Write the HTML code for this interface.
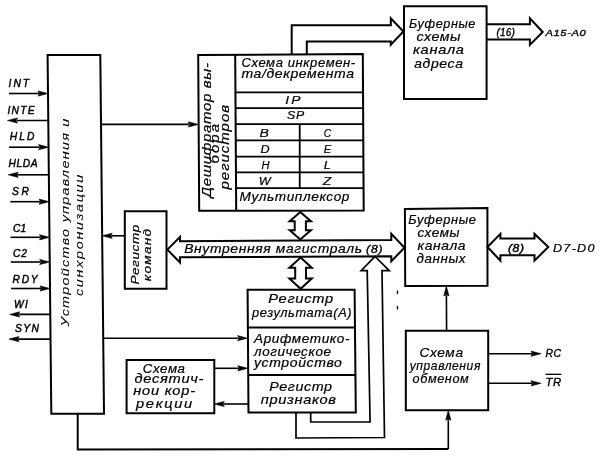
<!DOCTYPE html><html><head><meta charset="utf-8"><style>html,body{margin:0;padding:0;background:#fff;}svg{display:block;will-change:transform;}text{font-family:"Liberation Sans",sans-serif;font-style:italic;fill:#000;stroke:#000;stroke-width:0.2px;}</style></head><body>
<svg width="600" height="464" viewBox="0 0 600 464">
<rect width="600" height="464" fill="#fff"/>
<path d="M47.6 55.0 L100.3 55.0 L104.0 413.7 L51.3 413.7 Z" fill="none" stroke="#000" stroke-width="2.0" stroke-linejoin="miter"/>
<text transform="translate(8.6 87.2) scale(0.950 1)" x="0" y="0" font-size="10.8" textLength="21.5" lengthAdjust="spacing" style="stroke-width:0.45px">INT</text>
<line x1="9.0" y1="93.5" x2="39.0" y2="93.5" stroke="#000" stroke-width="1.6"/>
<path d="M48.0 93.5 L38.0 96.1 L39.5 93.5 L38.0 90.9 Z" fill="#000" stroke="#000" stroke-width="0.6" stroke-linejoin="miter"/>
<text transform="translate(7.5 114.2) scale(0.950 1)" x="0" y="0" font-size="10.8" textLength="28.4" lengthAdjust="spacing" style="stroke-width:0.45px">INTE</text>
<line x1="48.3" y1="120.5" x2="16.5" y2="120.5" stroke="#000" stroke-width="1.6"/>
<path d="M7.5 120.5 L17.5 117.9 L16.0 120.5 L17.5 123.1 Z" fill="#000" stroke="#000" stroke-width="0.6" stroke-linejoin="miter"/>
<text transform="translate(9.7 140.0) scale(0.950 1)" x="0" y="0" font-size="10.8" textLength="26.1" lengthAdjust="spacing" style="stroke-width:0.45px">HLD</text>
<line x1="9.0" y1="147.2" x2="39.6" y2="147.2" stroke="#000" stroke-width="1.6"/>
<path d="M48.6 147.2 L38.6 149.8 L40.1 147.2 L38.6 144.6 Z" fill="#000" stroke="#000" stroke-width="0.6" stroke-linejoin="miter"/>
<text transform="translate(8.6 167.2) scale(0.950 1)" x="0" y="0" font-size="10.8" textLength="30.6" lengthAdjust="spacing" style="stroke-width:0.45px">HLDA</text>
<line x1="48.8" y1="174.8" x2="17.2" y2="174.8" stroke="#000" stroke-width="1.6"/>
<path d="M8.2 174.8 L18.2 172.2 L16.7 174.8 L18.2 177.4 Z" fill="#000" stroke="#000" stroke-width="0.6" stroke-linejoin="miter"/>
<text transform="translate(11.9 195.3) scale(0.950 1)" x="0" y="0" font-size="10.8" textLength="18.0" lengthAdjust="spacing" style="stroke-width:0.45px">SR</text>
<line x1="10.3" y1="201.7" x2="40.1" y2="201.7" stroke="#000" stroke-width="1.6"/>
<path d="M49.1 201.7 L39.1 204.3 L40.6 201.7 L39.1 199.1 Z" fill="#000" stroke="#000" stroke-width="0.6" stroke-linejoin="miter"/>
<text transform="translate(12.9 231.5) scale(0.950 1)" x="0" y="0" font-size="10.8" textLength="6.9" lengthAdjust="spacing" style="stroke-width:0.45px">C</text>
<line x1="10.5" y1="237.3" x2="40.5" y2="237.3" stroke="#000" stroke-width="1.6"/>
<path d="M49.5 237.3 L39.5 239.9 L41.0 237.3 L39.5 234.7 Z" fill="#000" stroke="#000" stroke-width="0.6" stroke-linejoin="miter"/>
<text transform="translate(20.5 231.5) scale(0.950 1)" x="0" y="0" font-size="10.8" textLength="4.5" lengthAdjust="spacing" style="stroke-width:0.45px">1</text>
<text transform="translate(12.9 257.2) scale(0.950 1)" x="0" y="0" font-size="10.8" textLength="14.8" lengthAdjust="spacing" style="stroke-width:0.45px">C2</text>
<line x1="10.8" y1="262.0" x2="40.7" y2="262.0" stroke="#000" stroke-width="1.6"/>
<path d="M49.7 262.0 L39.7 264.6 L41.2 262.0 L39.7 259.4 Z" fill="#000" stroke="#000" stroke-width="0.6" stroke-linejoin="miter"/>
<text transform="translate(12.5 283.1) scale(0.950 1)" x="0" y="0" font-size="10.8" textLength="26.5" lengthAdjust="spacing" style="stroke-width:0.45px">RDY</text>
<line x1="11.0" y1="288.5" x2="41.0" y2="288.5" stroke="#000" stroke-width="1.6"/>
<path d="M50.0 288.5 L40.0 291.1 L41.5 288.5 L40.0 285.9 Z" fill="#000" stroke="#000" stroke-width="0.6" stroke-linejoin="miter"/>
<text transform="translate(14.0 307.9) scale(0.950 1)" x="0" y="0" font-size="10.8" textLength="14.7" lengthAdjust="spacing" style="stroke-width:0.45px">WI</text>
<line x1="50.3" y1="314.4" x2="18.7" y2="314.4" stroke="#000" stroke-width="1.6"/>
<path d="M9.7 314.4 L19.7 311.8 L18.2 314.4 L19.7 317.0 Z" fill="#000" stroke="#000" stroke-width="0.6" stroke-linejoin="miter"/>
<text transform="translate(15.0 332.2) scale(0.950 1)" x="0" y="0" font-size="10.8" textLength="25.1" lengthAdjust="spacing" style="stroke-width:0.45px">SYN</text>
<line x1="50.5" y1="339.1" x2="18.0" y2="339.1" stroke="#000" stroke-width="1.6"/>
<path d="M9.0 339.1 L19.0 336.5 L17.5 339.1 L19.0 341.7 Z" fill="#000" stroke="#000" stroke-width="0.6" stroke-linejoin="miter"/>
<text transform="translate(68.6 326.5) rotate(-90) scale(1.220 1)" x="0" y="0" font-size="11.8" textLength="170.4" lengthAdjust="spacing" style="stroke-width:0.05px">Устройство управления и</text>
<text transform="translate(82.6 296.0) rotate(-90) scale(1.220 1)" x="0" y="0" font-size="11.8" textLength="99.4" lengthAdjust="spacing" style="stroke-width:0.05px">синхронизации</text>
<line x1="101.0" y1="124.4" x2="189.3" y2="124.4" stroke="#000" stroke-width="1.6"/>
<path d="M198.3 124.4 L188.3 127.0 L189.8 124.4 L188.3 121.8 Z" fill="#000" stroke="#000" stroke-width="0.6" stroke-linejoin="miter"/>
<path d="M198.2 55.0 L362.8 54.0 L363.7 210.5 L199.2 210.8 Z" fill="none" stroke="#000" stroke-width="2.0" stroke-linejoin="miter"/>
<line x1="235.2" y1="55.0" x2="236.2" y2="210.8" stroke="#000" stroke-width="2.0"/>
<line x1="235.7" y1="92.4" x2="363.3" y2="92.4" stroke="#000" stroke-width="1.8"/>
<line x1="235.7" y1="108.1" x2="363.3" y2="108.1" stroke="#000" stroke-width="1.8"/>
<line x1="235.7" y1="124.2" x2="363.3" y2="124.2" stroke="#000" stroke-width="1.8"/>
<line x1="235.7" y1="140.4" x2="363.3" y2="140.4" stroke="#000" stroke-width="1.8"/>
<line x1="235.7" y1="156.6" x2="363.3" y2="156.6" stroke="#000" stroke-width="1.8"/>
<line x1="235.7" y1="172.4" x2="363.3" y2="172.4" stroke="#000" stroke-width="1.8"/>
<line x1="235.7" y1="188.2" x2="363.3" y2="188.2" stroke="#000" stroke-width="1.8"/>
<line x1="299.7" y1="124.4" x2="299.7" y2="188.2" stroke="#000" stroke-width="1.8"/>
<text transform="translate(241.4 66.7) scale(1.087 1)" x="0" y="0" font-size="12" textLength="104.7" lengthAdjust="spacing" >Схема инкремен-</text>
<text transform="translate(241.4 78.0) scale(1.170 1)" x="0" y="0" font-size="12" textLength="96.2" lengthAdjust="spacing" >та/декремента</text>
<text transform="translate(285.3 104.0) scale(1.250 1)" x="0" y="0" font-size="11" textLength="12.2" lengthAdjust="spacing" >IP</text>
<text transform="translate(287.0 118.8) scale(1.120 1)" x="0" y="0" font-size="11" textLength="15.4" lengthAdjust="spacing" >SP</text>
<text transform="translate(259.4 136.9) scale(1.220 1)" x="0" y="0" font-size="11.5" textLength="8.4" lengthAdjust="spacing" >B</text>
<text transform="translate(323.8 136.9) scale(0.903 1)" x="0" y="0" font-size="11.5" textLength="8.3" lengthAdjust="spacing" >C</text>
<text transform="translate(260.5 152.5) scale(1.096 1)" x="0" y="0" font-size="11.5" textLength="8.3" lengthAdjust="spacing" >D</text>
<text transform="translate(323.8 152.5) scale(0.978 1)" x="0" y="0" font-size="11.5" textLength="7.7" lengthAdjust="spacing" >E</text>
<text transform="translate(261.6 168.8) scale(0.963 1)" x="0" y="0" font-size="11.5" textLength="8.3" lengthAdjust="spacing" >H</text>
<text transform="translate(323.8 168.8) scale(1.126 1)" x="0" y="0" font-size="11.5" textLength="6.4" lengthAdjust="spacing" >L</text>
<text transform="translate(258.8 185.0) scale(1.096 1)" x="0" y="0" font-size="11.5" textLength="10.9" lengthAdjust="spacing" >W</text>
<text transform="translate(322.7 185.0) scale(1.220 1)" x="0" y="0" font-size="11.5" textLength="7.0" lengthAdjust="spacing" >Z</text>
<text transform="translate(239.4 201.0) scale(1.134 1)" x="0" y="0" font-size="12" textLength="97.0" lengthAdjust="spacing" >Мультиплексор</text>
<text transform="translate(210.6 197.6) rotate(-90) scale(1.220 1)" x="0" y="0" font-size="12.3" textLength="110.4" lengthAdjust="spacing" >Дешифратор вы-</text>
<text transform="translate(219.0 163.5) rotate(-90) scale(1.220 1)" x="0" y="0" font-size="12.3" textLength="32.4" lengthAdjust="spacing" >бора</text>
<text transform="translate(229.2 189.5) rotate(-90) scale(1.220 1)" x="0" y="0" font-size="12.3" textLength="69.3" lengthAdjust="spacing" >регистров</text>
<path d="M291.7 54.0 L291.7 25.2 L390.8 25.2 L390.8 18.2 L403.4 31.5 L390.8 44.8 L390.8 41.5 L306.8 41.5 L306.8 54.0" fill="none" stroke="#000" stroke-width="2.0" stroke-linejoin="miter"/>
<path d="M404.0 6.3 L486.6 6.3 L486.6 99.1 L404.0 99.1 Z" fill="none" stroke="#000" stroke-width="2.0" stroke-linejoin="miter"/>
<text transform="translate(409.0 27.6) scale(1.050 1)" x="0" y="0" font-size="12" textLength="63.2" lengthAdjust="spacing" >Буферные</text>
<text transform="translate(416.5 40.7) scale(1.185 1)" x="0" y="0" font-size="12" textLength="37.2" lengthAdjust="spacing" >схемы</text>
<text transform="translate(413.0 54.3) scale(1.220 1)" x="0" y="0" font-size="12" textLength="41.8" lengthAdjust="spacing" >канала</text>
<text transform="translate(414.2 67.9) scale(1.166 1)" x="0" y="0" font-size="12" textLength="41.8" lengthAdjust="spacing" >адреса</text>
<path d="M486.6 24.3 L529.9 24.3 L529.9 18.3 L542.7 32.0 L529.9 44.9 L529.9 39.4 L486.6 39.4" fill="none" stroke="#000" stroke-width="2.0" stroke-linejoin="miter"/>
<text transform="translate(496.5 36.2) scale(0.844 1)" x="0" y="0" font-size="11" textLength="21.7" lengthAdjust="spacing" style="stroke-width:0.45px">(16)</text>
<text transform="translate(545.5 35.7) scale(1.141 1)" x="0" y="0" font-size="9.8" textLength="35.3" lengthAdjust="spacing" style="stroke-width:0.35px">A15-A0</text>
<path d="M167.3 249.6 L180.0 237.0 L180.0 241.2 L391.3 240.0 L391.3 233.8 L404.5 247.8 L391.3 261.2 L391.3 256.3 L180.0 257.3 L180.0 262.5 Z" fill="none" stroke="#000" stroke-width="2.0" stroke-linejoin="miter"/>
<text transform="translate(184.2 253.0) scale(1.161 1)" x="0" y="0" font-size="12" textLength="153.2" lengthAdjust="spacing" >Внутренняя магистраль</text>
<text transform="translate(366.0 252.6) scale(1.050 1)" x="0" y="0" font-size="11.5" textLength="15.7" lengthAdjust="spacing" style="stroke-width:0.4px">(8)</text>
<path d="M300.3 212.0 L310.9 221.2 L305.9 221.2 L305.9 230.3 L310.9 230.3 L300.3 239.5 L289.7 230.3 L294.7 230.3 L294.7 221.2 L289.7 221.2 Z" fill="none" stroke="#000" stroke-width="2.0" stroke-linejoin="miter"/>
<path d="M300.6 257.5 L311.8 267.8 L306.0 267.8 L306.0 278.5 L311.8 278.5 L300.6 288.8 L289.4 278.5 L295.2 278.5 L295.2 267.8 L289.4 267.8 Z" fill="none" stroke="#000" stroke-width="2.0" stroke-linejoin="miter"/>
<path d="M124.8 211.2 L166.5 211.2 L166.5 288.8 L124.8 288.8 Z" fill="none" stroke="#000" stroke-width="2.0" stroke-linejoin="miter"/>
<text transform="translate(138.6 284.6) rotate(-90) scale(1.215 1)" x="0" y="0" font-size="11.2" textLength="49.3" lengthAdjust="spacing" >Регистр</text>
<text transform="translate(150.7 281.3) rotate(-90) scale(1.220 1)" x="0" y="0" font-size="11.2" textLength="43.0" lengthAdjust="spacing" >команд</text>
<line x1="124.8" y1="235.8" x2="111.2" y2="235.8" stroke="#000" stroke-width="1.6"/>
<path d="M102.2 235.8 L112.2 233.2 L110.7 235.8 L112.2 238.4 Z" fill="#000" stroke="#000" stroke-width="0.6" stroke-linejoin="miter"/>
<path d="M404.9 209.0 L487.4 208.0 L487.5 285.8 L405.2 285.9 Z" fill="none" stroke="#000" stroke-width="2.0" stroke-linejoin="miter"/>
<text transform="translate(408.2 223.6) scale(1.073 1)" x="0" y="0" font-size="12" textLength="63.1" lengthAdjust="spacing" >Буферные</text>
<text transform="translate(417.5 236.9) scale(1.125 1)" x="0" y="0" font-size="12" textLength="37.3" lengthAdjust="spacing" >схемы</text>
<text transform="translate(417.5 250.2) scale(1.159 1)" x="0" y="0" font-size="12" textLength="41.5" lengthAdjust="spacing" >канала</text>
<text transform="translate(416.4 262.5) scale(1.117 1)" x="0" y="0" font-size="12" textLength="44.0" lengthAdjust="spacing" >данных</text>
<path d="M487.5 247.0 L500.4 233.9 L500.4 238.6 L534.5 238.6 L534.5 233.9 L548.3 247.0 L534.5 260.7 L534.5 255.2 L500.4 255.2 L500.4 260.7 Z" fill="none" stroke="#000" stroke-width="2.0" stroke-linejoin="miter"/>
<text transform="translate(508.0 252.3) scale(1.101 1)" x="0" y="0" font-size="11" textLength="14.5" lengthAdjust="spacing" style="stroke-width:0.45px">(8)</text>
<text transform="translate(553.0 252.2) scale(1.220 1)" x="0" y="0" font-size="10.3" textLength="34.0" lengthAdjust="spacing" style="stroke-width:0.2px">D7-D0</text>
<path d="M247.6 289.8 L354.6 289.8 L355.8 412.4 L248.5 412.4 Z" fill="none" stroke="#000" stroke-width="2.0" stroke-linejoin="miter"/>
<line x1="247.9" y1="327.4" x2="355.0" y2="327.4" stroke="#000" stroke-width="2.0"/>
<line x1="248.2" y1="375.1" x2="355.5" y2="375.1" stroke="#000" stroke-width="2.0"/>
<text transform="translate(268.2 302.8) scale(1.220 1)" x="0" y="0" font-size="12" textLength="53.3" lengthAdjust="spacing" >Регистр</text>
<text transform="translate(251.9 316.8) scale(1.071 1)" x="0" y="0" font-size="12" textLength="93.1" lengthAdjust="spacing" >результата(А)</text>
<text transform="translate(254.0 342.8) scale(1.130 1)" x="0" y="0" font-size="12" textLength="84.5" lengthAdjust="spacing" >Арифметико-</text>
<text transform="translate(254.0 355.8) scale(1.122 1)" x="0" y="0" font-size="12" textLength="68.6" lengthAdjust="spacing" >логическое</text>
<text transform="translate(254.0 367.0) scale(1.168 1)" x="0" y="0" font-size="12" textLength="75.2" lengthAdjust="spacing" >устройство</text>
<text transform="translate(269.3 390.8) scale(1.190 1)" x="0" y="0" font-size="12" textLength="52.7" lengthAdjust="spacing" >Регистр</text>
<text transform="translate(260.8 403.5) scale(1.220 1)" x="0" y="0" font-size="12" textLength="61.6" lengthAdjust="spacing" >признаков</text>
<line x1="103.2" y1="338.2" x2="238.6" y2="338.2" stroke="#000" stroke-width="1.6"/>
<path d="M247.6 338.2 L237.6 340.8 L239.1 338.2 L237.6 335.6 Z" fill="#000" stroke="#000" stroke-width="0.6" stroke-linejoin="miter"/>
<path d="M296.0 412.4 L296.0 438.0 L384.5 437.5 L382.0 270.7 L389.3 270.7 L375.0 256.5 L361.2 270.7 L367.2 270.7 L370.1 421.8 L310.7 422.0 L310.7 412.4" fill="none" stroke="#000" stroke-width="1.7" stroke-linejoin="miter"/>
<path d="M126.6 360.0 L214.3 360.0 L214.3 413.3 L126.6 413.3 Z" fill="none" stroke="#000" stroke-width="2.0" stroke-linejoin="miter"/>
<text transform="translate(142.8 372.6) scale(1.108 1)" x="0" y="0" font-size="12" textLength="38.1" lengthAdjust="spacing" >Схема</text>
<text transform="translate(134.5 383.2) scale(1.220 1)" x="0" y="0" font-size="12" textLength="56.5" lengthAdjust="spacing" >десятич-</text>
<text transform="translate(133.2 395.3) scale(1.220 1)" x="0" y="0" font-size="12" textLength="50.7" lengthAdjust="spacing" >нои кор-</text>
<text transform="translate(136.0 408.3) scale(1.220 1)" x="0" y="0" font-size="12" textLength="46.1" lengthAdjust="spacing" >рекции</text>
<line x1="214.3" y1="368.3" x2="238.8" y2="368.3" stroke="#000" stroke-width="1.6"/>
<path d="M247.8 368.3 L237.8 370.9 L239.3 368.3 L237.8 365.7 Z" fill="#000" stroke="#000" stroke-width="0.6" stroke-linejoin="miter"/>
<line x1="248.5" y1="404.0" x2="223.3" y2="404.0" stroke="#000" stroke-width="1.6"/>
<path d="M214.3 404.0 L224.3 401.4 L222.8 404.0 L224.3 406.6 Z" fill="#000" stroke="#000" stroke-width="0.6" stroke-linejoin="miter"/>
<path d="M405.8 330.8 L488.2 330.8 L488.2 410.3 L405.8 410.3 Z" fill="none" stroke="#000" stroke-width="2.0" stroke-linejoin="miter"/>
<text transform="translate(419.4 357.0) scale(1.145 1)" x="0" y="0" font-size="12" textLength="38.1" lengthAdjust="spacing" >Схема</text>
<text transform="translate(409.7 369.6) scale(1.005 1)" x="0" y="0" font-size="12" textLength="70.3" lengthAdjust="spacing" >управления</text>
<text transform="translate(412.6 383.1) scale(1.056 1)" x="0" y="0" font-size="12" textLength="53.2" lengthAdjust="spacing" >обменом</text>
<line x1="446.6" y1="330.8" x2="446.4" y2="295.0" stroke="#000" stroke-width="1.6"/>
<path d="M446.3 286.0 L449.0 296.0 L446.4 294.5 L443.8 296.0 Z" fill="#000" stroke="#000" stroke-width="0.6" stroke-linejoin="miter"/>
<line x1="488.2" y1="353.7" x2="532.0" y2="353.7" stroke="#000" stroke-width="1.6"/>
<path d="M541.0 353.7 L531.0 356.3 L532.5 353.7 L531.0 351.1 Z" fill="#000" stroke="#000" stroke-width="0.6" stroke-linejoin="miter"/>
<line x1="488.2" y1="383.3" x2="532.0" y2="383.3" stroke="#000" stroke-width="1.6"/>
<path d="M541.0 383.3 L531.0 385.9 L532.5 383.3 L531.0 380.7 Z" fill="#000" stroke="#000" stroke-width="0.6" stroke-linejoin="miter"/>
<text transform="translate(545.5 357.2) scale(0.950 1)" x="0" y="0" font-size="11" textLength="16.5" lengthAdjust="spacing" style="stroke-width:0.35px">RC</text>
<text transform="translate(545.5 385.5) scale(1.030 1)" x="0" y="0" font-size="11" textLength="15.2" lengthAdjust="spacing" style="stroke-width:0.35px">TR</text>
<line x1="545.5" y1="374.3" x2="561.5" y2="374.3" stroke="#000" stroke-width="1.3"/>
<path d="M77.7 413.7 L77.7 449.5 L448.3 449.0" fill="none" stroke="#000" stroke-width="2.0" stroke-linejoin="miter"/>
<line x1="448.3" y1="449.0" x2="448.3" y2="419.3" stroke="#000" stroke-width="1.6"/>
<path d="M448.3 410.3 L450.9 420.3 L448.3 418.8 L445.7 420.3 Z" fill="#000" stroke="#000" stroke-width="0.6" stroke-linejoin="miter"/>
<rect x="396.8" y="290.5" width="1.3" height="3.5" fill="#000"/>
<rect x="396.8" y="306" width="1.3" height="3.5" fill="#000"/>
</svg></body></html>
